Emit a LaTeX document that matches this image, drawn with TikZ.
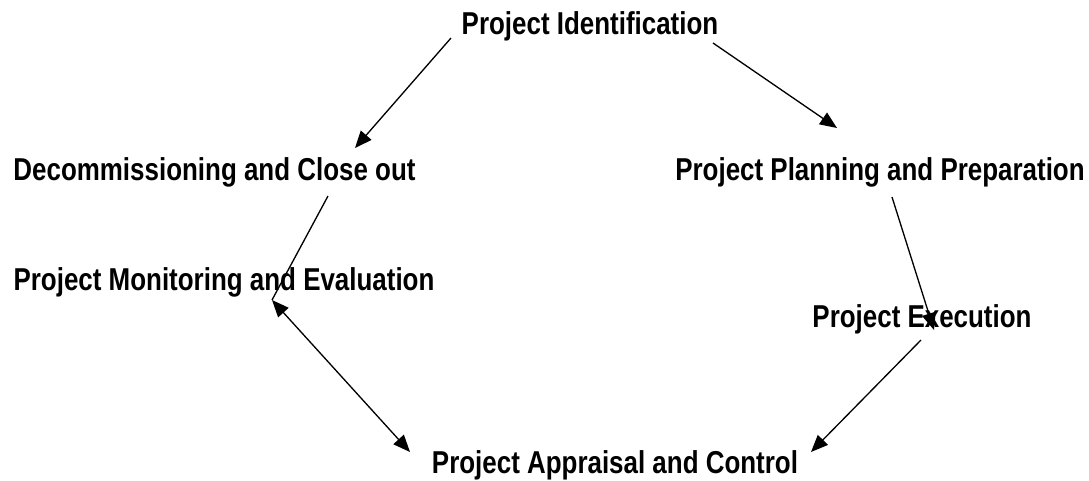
\documentclass[tikz,border=0pt]{standalone}
\usepackage{fontspec}
\setmainfont{Liberation Sans}[FakeStretch=0.82]
\usepackage{tikz}
\usetikzlibrary{arrows.meta}
\pgfdeclarelayer{edgelayer}
\pgfdeclarelayer{nodelayer}
\pgfsetlayers{edgelayer,nodelayer,main}
\tikzstyle{none}=[inner sep=0pt]
\tikzstyle{phase}=[inner sep=0pt, anchor=base, font=\fontsize{18}{21}\selectfont\bfseries]
\tikzstyle{flow}=[-{Triangle[length=0.34cm,width=0.28cm]}, line width=0.75pt]
\tikzstyle{twoway}=[{Triangle[length=0.34cm,width=0.28cm]}-{Triangle[length=0.34cm,width=0.28cm]}, line width=0.75pt]
\tikzstyle{plain}=[-, line width=0.75pt]

\begin{document}
\begin{tikzpicture}
	\useasboundingbox (0, 0) rectangle (21.78, -9.6);
	\begin{pgfonlayer}{nodelayer}
		\node [style=phase] (ident) at (11.8, -0.68) {Project Identification};
		\node [style=phase] (close) at (4.29, -3.6) {Decommissioning and Close out};
		\node [style=phase] (plan) at (17.6, -3.6) {Project Planning and Preparation};
		\node [style=phase] (monitor) at (4.48, -5.8) {Project Monitoring and Evaluation};
		\node [style=phase] (exec) at (18.44, -6.54) {Project Execution};
		\node [style=phase] (apprais) at (12.3, -9.46) {Project Appraisal and Control};

		\node [style=none] (identL) at (9.02, -0.76) {};
		\node [style=none] (identR) at (14.26, -0.86) {};
		\node [style=none] (closeT) at (7.1, -2.96) {};
		\node [style=none] (closeB) at (6.56, -3.92) {};
		\node [style=none] (planT) at (16.74, -2.56) {};
		\node [style=none] (planB) at (17.84, -3.94) {};
		\node [style=none] (execT) at (18.68, -6.6) {};
		\node [style=none] (execB) at (18.42, -6.8) {};
		\node [style=none] (monitorB) at (5.44, -6.0) {};
		\node [style=none] (appraisL) at (8.2, -9.04) {};
		\node [style=none] (appraisR) at (16.22, -9.04) {};
	\end{pgfonlayer}
	\begin{pgfonlayer}{edgelayer}
		\draw [style=flow] (identL.center) to (closeT.center);
		\draw [style=flow] (identR.center) to (planT.center);
		\draw [style=flow] (planB.center) to (execT.center);
		\draw [style=flow] (execB.center) to (appraisR.center);
		\draw [style=twoway] (monitorB.center) to (appraisL.center);
		\draw [style=plain] (closeB.center) to (monitorB.center);
	\end{pgfonlayer}
\end{tikzpicture}
\end{document}
